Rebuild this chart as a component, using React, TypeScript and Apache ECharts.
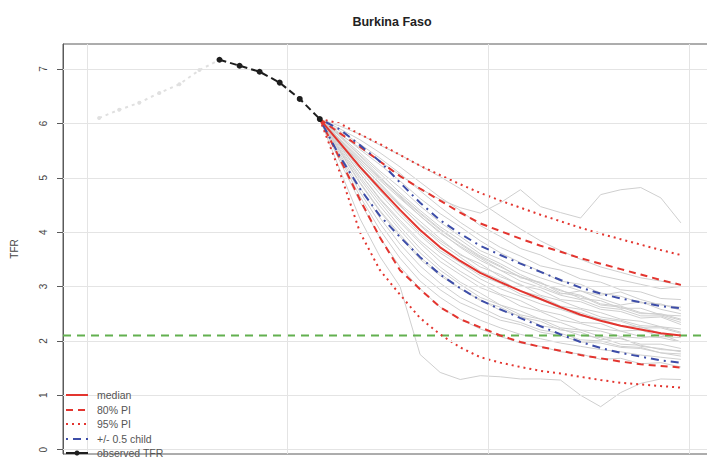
import React, { useEffect, useRef } from 'react';
import * as echarts from 'echarts';

const titleText = 'Burkina Faso';
const yAxisTitle = 'TFR';

const obsEarlyYears = [1953, 1958, 1963, 1968, 1973, 1978, 1983];
const obsEarlyTFR = [6.10, 6.25, 6.38, 6.56, 6.72, 6.98, 7.17];
const obsYears = [1983, 1988, 1993, 1998, 2003, 2008];
const obsTFR = [7.17, 7.06, 6.95, 6.75, 6.45, 6.08];

const projYears = [2008, 2013, 2018, 2023, 2028, 2033, 2038, 2043, 2048, 2053, 2058, 2063, 2068, 2073, 2078, 2083, 2088, 2093, 2098];
const median = [6.08, 5.64, 5.20, 4.80, 4.41, 4.04, 3.72, 3.47, 3.25, 3.08, 2.92, 2.77, 2.62, 2.48, 2.37, 2.28, 2.21, 2.14, 2.10];
const pi80Upper = [6.08, 5.82, 5.57, 5.30, 5.03, 4.80, 4.58, 4.36, 4.16, 4.02, 3.88, 3.75, 3.64, 3.52, 3.42, 3.32, 3.22, 3.12, 3.03];
const pi80Lower = [6.08, 5.35, 4.60, 3.90, 3.30, 2.95, 2.62, 2.40, 2.25, 2.10, 1.98, 1.89, 1.82, 1.74, 1.68, 1.62, 1.57, 1.54, 1.51];
const pi95Upper = [6.08, 6.00, 5.80, 5.62, 5.42, 5.22, 5.05, 4.88, 4.72, 4.58, 4.45, 4.32, 4.20, 4.08, 3.97, 3.87, 3.77, 3.67, 3.58];
const pi95Lower = [6.08, 5.10, 4.00, 3.30, 2.85, 2.42, 2.12, 1.88, 1.70, 1.60, 1.52, 1.45, 1.40, 1.34, 1.28, 1.23, 1.20, 1.17, 1.14];
const halfChildUpper = [6.08, 5.89, 5.60, 5.30, 4.91, 4.54, 4.22, 3.97, 3.75, 3.58, 3.42, 3.27, 3.12, 2.98, 2.87, 2.78, 2.71, 2.64, 2.60];
const halfChildLower = [6.08, 5.39, 4.80, 4.30, 3.91, 3.54, 3.22, 2.97, 2.75, 2.58, 2.42, 2.27, 2.12, 1.98, 1.87, 1.78, 1.71, 1.64, 1.60];

const trajectories = [
  [6.08, 5.80, 5.55, 5.30, 5.05, 4.80, 4.60, 4.45, 4.35, 4.54, 4.78, 4.47, 4.36, 4.26, 4.69, 4.78, 4.82, 4.63, 4.17],
  [6.08, 5.15, 4.25, 3.55, 3.00, 1.75, 1.42, 1.29, 1.36, 1.34, 1.30, 1.30, 1.28, 1.00, 0.79, 1.05, 1.22, 1.30, 1.29],
  [6.08, 5.70, 5.31, 4.95, 4.62, 4.30, 3.98, 3.74, 3.52, 3.30, 3.18, 3.02, 2.86, 2.92, 2.78, 2.66, 2.72, 2.58, 2.50],
  [6.08, 5.55, 5.02, 4.55, 4.10, 3.70, 3.36, 3.08, 2.88, 2.66, 2.55, 2.40, 2.34, 2.20, 2.18, 2.08, 2.05, 2.12, 1.98],
  [6.08, 5.78, 5.46, 5.12, 4.82, 4.48, 4.18, 3.92, 3.66, 3.50, 3.30, 3.16, 3.04, 2.92, 2.84, 2.90, 2.76, 2.66, 2.62],
  [6.08, 5.48, 4.90, 4.38, 3.92, 3.50, 3.20, 2.96, 2.74, 2.62, 2.44, 2.36, 2.20, 2.16, 2.02, 2.06, 1.90, 1.86, 1.80],
  [6.08, 5.66, 5.26, 4.90, 4.52, 4.20, 3.88, 3.58, 3.42, 3.18, 3.04, 2.84, 2.74, 2.60, 2.52, 2.40, 2.36, 2.26, 2.22],
  [6.08, 5.62, 5.14, 4.70, 4.30, 3.94, 3.62, 3.38, 3.14, 2.96, 2.82, 2.68, 2.58, 2.46, 2.40, 2.28, 2.26, 2.14, 2.10],
  [6.08, 5.82, 5.52, 5.24, 4.94, 4.62, 4.34, 4.10, 3.84, 3.62, 3.44, 3.28, 3.10, 3.04, 2.88, 2.82, 2.70, 2.68, 2.56],
  [6.08, 5.40, 4.74, 4.16, 3.66, 3.24, 2.94, 2.70, 2.54, 2.38, 2.30, 2.16, 2.10, 1.98, 1.96, 1.88, 1.86, 1.78, 1.76],
  [6.08, 5.72, 5.36, 4.98, 4.66, 4.34, 4.04, 3.78, 3.54, 3.36, 3.18, 3.06, 2.92, 2.84, 2.68, 2.64, 2.52, 2.48, 2.38],
  [6.08, 5.58, 5.08, 4.62, 4.22, 3.84, 3.54, 3.28, 3.06, 2.86, 2.74, 2.56, 2.48, 2.34, 2.32, 2.18, 2.20, 2.08, 2.06],
  [6.08, 5.76, 5.42, 5.08, 4.72, 4.40, 4.10, 3.86, 3.60, 3.42, 3.22, 3.06, 2.94, 2.78, 2.74, 2.60, 2.60, 2.48, 2.46],
  [6.08, 5.52, 4.98, 4.48, 4.04, 3.62, 3.30, 3.04, 2.80, 2.66, 2.48, 2.40, 2.24, 2.20, 2.08, 2.04, 1.94, 1.94, 1.86],
  [6.08, 5.68, 5.28, 4.88, 4.50, 4.12, 3.80, 3.54, 3.28, 3.12, 2.92, 2.82, 2.64, 2.58, 2.44, 2.38, 2.28, 2.26, 2.16],
  [6.08, 5.86, 5.62, 5.36, 5.08, 4.76, 4.46, 4.18, 3.94, 3.72, 3.56, 3.38, 3.30, 3.14, 3.08, 2.94, 2.90, 2.78, 2.76],
  [6.08, 5.44, 4.82, 4.26, 3.78, 3.38, 3.06, 2.80, 2.62, 2.44, 2.34, 2.20, 2.14, 2.02, 2.00, 1.90, 1.88, 1.78, 1.72],
  [6.08, 5.64, 5.18, 4.76, 4.36, 3.98, 3.66, 3.44, 3.20, 3.06, 2.86, 2.76, 2.60, 2.52, 2.40, 2.36, 2.24, 2.24, 2.14],
  [6.08, 5.76, 5.40, 5.02, 4.64, 4.30, 4.00, 3.72, 3.48, 3.30, 3.10, 2.98, 2.84, 2.76, 2.62, 2.58, 2.46, 2.46, 2.34],
  [6.08, 5.60, 5.08, 4.60, 4.18, 3.80, 3.46, 3.22, 2.98, 2.84, 2.64, 2.54, 2.38, 2.32, 2.22, 2.18, 2.08, 2.06, 1.98],
  [6.08, 5.70, 5.34, 5.00, 4.68, 4.36, 4.06, 3.80, 3.56, 3.38, 3.16, 3.08, 2.88, 2.82, 2.66, 2.62, 2.50, 2.50, 2.40],
  [6.08, 5.50, 4.92, 4.40, 3.96, 3.54, 3.24, 2.96, 2.76, 2.56, 2.46, 2.28, 2.22, 2.10, 2.06, 1.94, 1.92, 1.84, 1.82],
  [6.08, 5.90, 5.70, 5.46, 5.20, 4.92, 4.64, 4.40, 4.12, 3.92, 3.70, 3.58, 3.40, 3.32, 3.20, 3.12, 3.04, 2.96, 3.00],
  [6.08, 5.30, 4.56, 3.90, 3.36, 2.96, 2.62, 2.40, 2.22, 2.08, 1.96, 1.90, 1.80, 1.76, 1.66, 1.68, 1.58, 1.60, 1.52],
  [6.08, 5.62, 5.22, 4.84, 4.48, 4.14, 3.84, 3.60, 3.36, 3.22, 3.02, 2.94, 2.76, 2.72, 2.58, 2.54, 2.42, 2.44, 2.30],
  [6.08, 5.36, 4.66, 4.04, 3.52, 3.10, 2.80, 2.56, 2.38, 2.24, 2.12, 2.04, 1.96, 1.90, 1.84, 1.80, 1.74, 1.70, 1.66],
  [6.08, 5.95, 5.80, 5.60, 5.42, 5.22, 5.02, 4.80, 4.55, 4.30, 4.06, 3.84, 3.66, 3.50, 3.36, 3.26, 3.16, 3.10, 3.02],
];

const replacementTFR = 2.1;
const xMin = 1944;
const xMax = 2106;
const yMin = -0.08;
const yMax = 7.46;
const yTicks = [0, 1, 2, 3, 4, 5, 6, 7];
const xGridYears = [1950, 2000, 2050, 2100];

const legendLabels = ['median', '80% PI', '95% PI', '+/- 0.5 child', 'observed TFR'];

const RED = '#e3352f';
const BLUE = '#3d4da8';
const GREEN = '#62b04f';
const FONT = '"Liberation Sans", Arial, sans-serif';

const zip = (xs: number[], ys: number[]) => xs.map((x, i) => [x, ys[i]]);

export default function App() {
  const ref = useRef<HTMLDivElement>(null);

  useEffect(() => {
    if (!ref.current) return;
    const chart = echarts.init(ref.current, null, { renderer: 'svg' });

    const lineSeries = (name: string, data: number[][], color: string, width: number, type: any, z: number) => ({
      name,
      type: 'line',
      data,
      showSymbol: false,
      symbol: 'none',
      silent: true,
      z,
      lineStyle: { color, width, type },
    });

    const series: any[] = [
      {
        type: 'line',
        data: [],
        z: 1,
        silent: true,
        markLine: {
          silent: true,
          symbol: ['none', 'none'],
          label: { show: false },
          lineStyle: { color: '#e4e4e4', width: 1, type: 'solid' },
          data: [
            ...xGridYears.map((x) => ({ xAxis: x })),
            ...yTicks.map((y) => ({ yAxis: y })),
          ],
        },
      },
      ...trajectories.map((t, i) => lineSeries('traj' + i, zip(projYears, t), '#cfcfcf', 1, 'solid', 2)),
      lineSeries('replacement', [[xMin, replacementTFR], [xMax, replacementTFR]], GREEN, 2, [8, 6], 3),
      lineSeries('95% PI upper', zip(projYears, pi95Upper), RED, 2, [2, 4], 4),
      lineSeries('95% PI lower', zip(projYears, pi95Lower), RED, 2, [2, 4], 4),
      lineSeries('80% PI upper', zip(projYears, pi80Upper), RED, 2, [7, 5], 5),
      lineSeries('80% PI lower', zip(projYears, pi80Lower), RED, 2, [7, 5], 5),
      lineSeries('+0.5 child', zip(projYears, halfChildUpper), BLUE, 2, [2, 5, 8, 5], 6),
      lineSeries('-0.5 child', zip(projYears, halfChildLower), BLUE, 2, [2, 5, 8, 5], 6),
      lineSeries('median', zip(projYears, median), RED, 2, 'solid', 7),
      {
        name: 'observed early',
        type: 'line',
        data: zip(obsEarlyYears, obsEarlyTFR),
        symbol: 'circle',
        symbolSize: 4,
        silent: true,
        z: 8,
        itemStyle: { color: '#e0e0e0' },
        lineStyle: { color: '#e0e0e0', width: 2, type: [3, 4] },
      },
      {
        name: 'observed TFR',
        type: 'line',
        data: zip(obsYears, obsTFR),
        symbol: 'circle',
        symbolSize: 6,
        silent: true,
        z: 9,
        itemStyle: { color: '#1e1e1e' },
        lineStyle: { color: '#1e1e1e', width: 2, type: [7, 4] },
      },
    ];

    const legendX0 = 66;
    const legendX1 = 88;
    const legendTextX = 97;
    const legendYs = [395, 410, 424, 439, 453];
    const legendStyles: any[] = [
      { stroke: RED, lineDash: null },
      { stroke: RED, lineDash: [7, 5] },
      { stroke: RED, lineDash: [2, 4] },
      { stroke: BLUE, lineDash: [2, 5, 8, 5] },
      { stroke: '#1e1e1e', lineDash: null },
    ];
    const graphic: any[] = [];
    legendLabels.forEach((label, i) => {
      const y = legendYs[i];
      graphic.push({
        type: 'line',
        silent: true,
        z: 20,
        shape: { x1: legendX0, y1: y, x2: legendX1, y2: y },
        style: { stroke: legendStyles[i].stroke, lineWidth: 2, lineDash: legendStyles[i].lineDash },
      });
      graphic.push({
        type: 'text',
        silent: true,
        z: 20,
        x: legendTextX,
        y,
        style: {
          text: label,
          fill: '#555',
          font: `10.5px ${FONT}`,
          textVerticalAlign: 'middle',
          verticalAlign: 'middle',
        },
      });
    });
    graphic.push({
      type: 'circle',
      silent: true,
      z: 21,
      shape: { cx: (legendX0 + legendX1) / 2, cy: legendYs[4], r: 2.5 },
      style: { fill: '#1e1e1e' },
    });

    chart.setOption({
      animation: false,
      backgroundColor: '#ffffff',
      textStyle: { fontFamily: FONT },
      title: {
        text: titleText,
        left: 387,
        top: 10,
        textAlign: 'center',
        textStyle: { fontSize: 12.5, fontWeight: 'bold', color: '#222', fontFamily: FONT },
      },
      grid: {
        left: 63,
        top: 44,
        right: -6,
        bottom: 12,
        show: true,
        borderColor: '#5a5a5a',
        borderWidth: 1,
        containLabel: false,
        outerBoundsMode: 'none',
      },
      xAxis: {
        type: 'value',
        min: xMin,
        max: xMax,
        axisLine: { show: false },
        axisTick: { show: false },
        axisLabel: { show: false },
        splitLine: { show: false },
      },
      yAxis: {
        type: 'value',
        min: yMin,
        max: yMax,
        name: yAxisTitle,
        nameLocation: 'middle',
        nameRotate: 90,
        nameGap: 44,
        nameTextStyle: { fontSize: 10, color: '#444', fontFamily: FONT },
        axisLine: { show: true, lineStyle: { color: '#5a5a5a', width: 1 } },
        axisTick: {
          show: true,
          length: 6,
          customValues: yTicks,
          lineStyle: { color: '#5a5a5a', width: 1 },
        },
        axisLabel: {
          show: true,
          rotate: 90,
          margin: 15,
          fontSize: 10,
          color: '#444',
          customValues: yTicks,
          fontFamily: FONT,
        },
        splitLine: { show: false },
      },
      graphic,
      series,
    });

    return () => {
      chart.dispose();
    };
  }, []);

  return (
    <div
      ref={ref}
      style={{ position: 'fixed', left: 0, top: 0, width: 707, height: 466, background: '#fff' }}
    />
  );
}
